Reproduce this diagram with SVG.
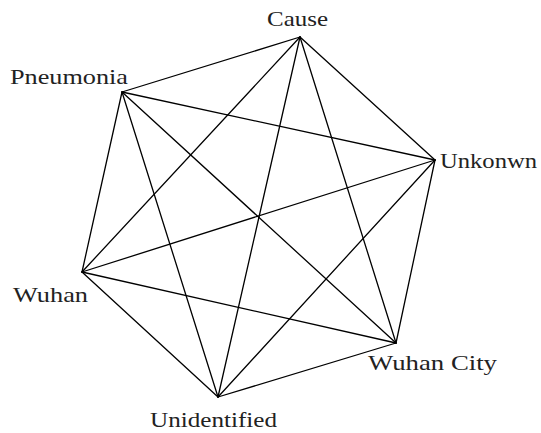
<svg xmlns="http://www.w3.org/2000/svg" width="541" height="433" viewBox="0 0 541 433">
<style>
.e{stroke:#000;stroke-width:1.3;fill:none;stroke-linecap:round}
.t{font-family:"Liberation Serif","DejaVu Serif",serif;font-size:21px;fill:#222}
</style>
<rect width="541" height="433" fill="#fff"/>
<g id="connectors">
<line class="e" x1="300" y1="37" x2="122" y2="92"/>
<line class="e" x1="300" y1="37" x2="435" y2="160"/>
<line class="e" x1="300" y1="37" x2="82" y2="272"/>
<line class="e" x1="300" y1="37" x2="396" y2="343"/>
<line class="e" x1="300" y1="37" x2="218" y2="397"/>
<line class="e" x1="122" y1="92" x2="435" y2="160"/>
<line class="e" x1="122" y1="92" x2="82" y2="272"/>
<line class="e" x1="122" y1="92" x2="396" y2="343"/>
<line class="e" x1="122" y1="92" x2="218" y2="397"/>
<line class="e" x1="435" y1="160" x2="82" y2="272"/>
<line class="e" x1="435" y1="160" x2="396" y2="343"/>
<line class="e" x1="435" y1="160" x2="218" y2="397"/>
<line class="e" x1="82" y1="272" x2="396" y2="343"/>
<line class="e" x1="82" y1="272" x2="218" y2="397"/>
<line class="e" x1="396" y1="343" x2="218" y2="397"/>
</g>
<g id="cause"><text class="t" x="267" y="26" textLength="61" lengthAdjust="spacingAndGlyphs">Cause</text></g>
<g id="pneumonia"><text class="t" x="10" y="84" textLength="118" lengthAdjust="spacingAndGlyphs">Pneumonia</text></g>
<g id="unkonwn"><text class="t" x="440" y="168" textLength="97" lengthAdjust="spacingAndGlyphs">Unkonwn</text></g>
<g id="wuhan"><text class="t" x="13" y="302" textLength="75" lengthAdjust="spacingAndGlyphs">Wuhan</text></g>
<g id="wuhan-city"><text class="t" x="368" y="370" textLength="129" lengthAdjust="spacingAndGlyphs">Wuhan City</text></g>
<g id="unidentified"><text class="t" x="150" y="427" textLength="127" lengthAdjust="spacingAndGlyphs">Unidentified</text></g>
</svg>
